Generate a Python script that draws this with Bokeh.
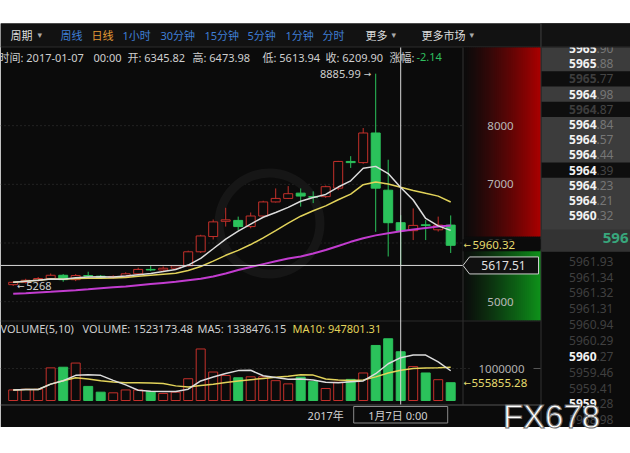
import numpy as np
import pandas as pd
from bokeh.plotting import figure
from bokeh.models import Range1d, ColumnDataSource
from bokeh.core.properties import value
from bokeh.embed import file_html
from bokeh.resources import INLINE

# ---------------- data: daily BTC/CNY, 2016-12-07 .. 2017-01-11 ----------------
dates = pd.date_range("2016-12-07", periods=36, freq="D")
opens = [5290, 5330, 5365, 5395, 5450, 5375, 5445, 5435, 5410, 5430,
         5475, 5550, 5540, 5570, 5610, 5850, 6110, 6370, 6385, 6280,
         6460, 6700, 6760, 6850, 6790, 6790, 6935, 7390, 7370, 7875,
         6900, 6345.82, 6210, 6310, 6225, 6305]
highs = [5345, 5390, 5420, 5480, 5470, 5470, 5510, 5455, 5450, 5500,
         5580, 5620, 5600, 5620, 5870, 6140, 6400, 6600, 6450, 6520,
         6720, 6930, 6970, 6930, 6880, 6980, 7400, 7480, 7960, 8885.99,
         7420, 6473.98, 6590, 6390, 6450, 6470]
lows = [5268, 5310, 5340, 5370, 5340, 5350, 5390, 5400, 5395, 5420,
        5460, 5520, 5525, 5550, 5600, 5830, 6060, 6280, 6220, 6250,
        6450, 6690, 6750, 6620, 6680, 6770, 6900, 7280, 7350, 6190,
        5770, 5613.94, 6050, 6050, 6195, 5830]
closes = [5330, 5365, 5395, 5450, 5375, 5445, 5435, 5410, 5430, 5475,
          5550, 5540, 5570, 5610, 5850, 6120, 6360, 6395, 6280, 6460,
          6700, 6760, 6840, 6800, 6780, 6960, 7390, 7370, 7875, 6935,
          6345.82, 6209.90, 6300, 6300, 6305, 5960.32]
volumes = [330000, 350000, 350000, 1020000, 1040000, 1170000, 440000, 260000, 240000, 330000,
           330000, 280000, 220000, 260000, 680000, 1610000, 890000, 780000, 710000, 740000,
           740000, 620000, 520000, 730000, 590000, 375000, 570632.35, 660000, 860000, 1720000,
           1929207.27, 1523173.48, 1060000, 860000, 650000, 555855.28]
# 30-day average line as displayed (it reaches back before the first visible day)
ma30 = [5133, 5145, 5158, 5170, 5183, 5196, 5210, 5228, 5245, 5260,
        5280, 5300, 5320, 5340, 5365, 5390, 5430, 5480, 5540, 5590,
        5640, 5690, 5735, 5770, 5820, 5880, 5950, 6020, 6080, 6130,
        6165, 6200, 6230, 6255, 6280, 6300]

price_ticks = [5000, 6000, 7000, 8000]
volume_ticks = [1000000]
cursor_idx = 31
cursor_price = 5617.51

periods = ["周线", "日线", "1小时", "30分钟", "15分钟", "5分钟", "1分钟", "分时"]
asks = ["5965.90", "5965.88", "5965.77", "5964.98", "5964.87", "5964.84",
        "5964.57", "5964.44", "5964.39", "5964.23", "5964.21", "5960.32"]
bids = ["5961.93", "5961.34", "5961.32", "5961.31", "5960.94", "5960.29",
        "5960.27", "5959.46", "5959.41", "5959.28", "5958.98"]
last_trade = "596"

# ---------------- page geometry & styling ----------------
W, H = 630, 453
BG = "#0b0b0b"
RED = "#c4302b"
GREEN = "#2bc25b"
MA_WHITE = "#dcdcdc"
MA_YELLOW = "#e2d35a"
MA_MAGENTA = "#c23ccf"
GRID = "#3a3a3a"
TXT = "#cfcfcf"
LATIN = "Noto Sans, Noto Sans CJK SC"
CJK = "Noto Sans CJK SC"

# candle slot i sits at 12.7 + 12.5*i px
IDX_LO, IDX_HI = -12.7 / 12.5, (W - 12.7) / 12.5
# price 6000 at 242.5 px, 0.05867 px per yuan
P_Y0, P_K = 242.5, 0.05867
PRICE_LO, PRICE_HI = 6000 - (H - P_Y0) / P_K, 6000 + P_Y0 / P_K
# volume baseline at 400 px, 32 px per million
V_Y0, V_K = 400.0, 32e-6
VOL_LO, VOL_HI = -(H - V_Y0) / V_K, V_Y0 / V_K

p = figure(width=W, height=H, output_backend="svg", toolbar_location=None,
           x_range=Range1d(IDX_LO, IDX_HI), y_range=Range1d(H, 0),
           x_axis_location=None, y_axis_location=None, min_border=0,
           background_fill_color="white", border_fill_color="white",
           outline_line_color=None)
p.min_border_left = p.min_border_right = p.min_border_top = p.min_border_bottom = 0
p.extra_x_ranges = {"px": Range1d(0, W)}
p.extra_y_ranges = {"price": Range1d(PRICE_LO, PRICE_HI), "vol": Range1d(VOL_LO, VOL_HI)}
p.grid.visible = False

price_unit = (PRICE_HI - PRICE_LO) / H   # yuan per pixel


def box(l, r, t, b, color, line=None, **kw):
    p.quad(left=[l], right=[r], top=[t], bottom=[b], fill_color=color,
           line_color=line, x_range_name="px", **kw)


def seg(x0, x1, y0, y1, color, width=1.0, dash="solid", xr="px", yr="default"):
    p.segment(x0=[x0], x1=[x1], y0=[y0], y1=[y1], line_color=color,
              line_width=width, line_dash=dash, x_range_name=xr, y_range_name=yr)


def label(x, y, s, color=TXT, size="11px", font=LATIN, align="left",
          style="normal", xr="px", yr="default", **kw):
    p.text(x=[x], y=[y], text=[s], text_color=color, text_font=value(font),
           text_font_size=value(size), text_align=align, text_baseline="middle",
           text_font_style=style, x_range_name=xr, y_range_name=yr, **kw)


def lerp(c0, c1, t):
    return "#%02x%02x%02x" % tuple(int(round(a + (b - a) * t)) for a, b in zip(c0, c1))


# ---------------- frame backgrounds ----------------
box(0, W, 23, 426.5, BG)
box(0, W, 23, 46.5, "#121212")
seg(0, W, 46.5, 46.5, "#2c2c2c")

# right-hand price strip: red above the last price, green below
xs = np.arange(462, 540, 2.0)
tr = ((xs + 1 - 462) / 78.0) ** 1.3
p.quad(left=xs, right=xs + 2.5, top=[47] * len(xs), bottom=[236] * len(xs),
       fill_color=[lerp((11, 11, 11), (170, 0, 0), t) for t in tr],
       line_color=None, x_range_name="px")
tg = ((xs + 1 - 462) / 78.0) ** 1.2
p.quad(left=xs, right=xs + 2.5, top=[249] * len(xs), bottom=[320] * len(xs),
       fill_color=[lerp((11, 11, 11), (14, 145, 26), t) for t in tg],
       line_color=None, x_range_name="px")

# panel rules
seg(462.5, 462.5, 47, 404, "#333333")
seg(540.5, 540.5, 23, 426, "#333333")
seg(0, 540, 320.5, 320.5, "#2a2a2a")
seg(0, 540, 404.5, 404.5, "#555555")

# dotted price grid and volume grid
for t in price_ticks:
    seg(0, 462, t, t, GRID, 1, "1 3", yr="price")
for t in volume_ticks:
    seg(0, 470, t, t, GRID, 1, "1 3", yr="vol")
    seg(533, 540, t, t, "#555555", 1, yr="vol")

# faint logo ring
p.annulus(x=[269], y=[223], inner_radius=46, outer_radius=55, fill_color="#161616",
          line_color=None, x_range_name="px")

# ---------------- candles ----------------
df = pd.DataFrame(dict(i=np.arange(len(closes)), open=opens, high=highs, low=lows,
                       close=closes, volume=volumes, ma30=ma30))
df["up"] = df.close >= df.open
df["top"] = df[["open", "close"]].max(axis=1)
df["bot"] = df[["open", "close"]].min(axis=1)
df["ma5"] = df.close.rolling(5, min_periods=1).mean()
df["ma10"] = df.close.rolling(10, min_periods=1).mean()
df["vma5"] = df.volume.rolling(5, min_periods=1).mean()
df["vma10"] = df.volume.rolling(10, min_periods=1).mean()

src = ColumnDataSource(df)
up = ColumnDataSource(df[df.up])
dn = ColumnDataSource(df[~df.up])

p.segment(x0="i", x1="i", y0="low", y1="high", source=up, line_color=RED,
          line_width=1, y_range_name="price")
p.vbar(x="i", width=0.72, top="top", bottom="bot", source=up, fill_color=BG,
       line_color=RED, line_width=1, y_range_name="price")
p.segment(x0="i", x1="i", y0="low", y1="high", source=dn, line_color=GREEN,
          line_width=1, y_range_name="price")
p.vbar(x="i", width=0.72, top="top", bottom="bot", source=dn, fill_color=GREEN,
       line_color=GREEN, line_width=1, y_range_name="price")

p.line(x="i", y="ma30", source=src, line_color=MA_MAGENTA, line_width=2, y_range_name="price")
p.line(x="i", y="ma10", source=src, line_color=MA_YELLOW, line_width=1.5, y_range_name="price")
p.line(x="i", y="ma5", source=src, line_color=MA_WHITE, line_width=1.5, y_range_name="price")

# volume bars
p.vbar(x="i", width=0.72, top="volume", bottom=0, source=up, fill_color=BG,
       line_color=RED, line_width=1, y_range_name="vol")
p.vbar(x="i", width=0.72, top="volume", bottom=0, source=dn, fill_color=GREEN,
       line_color=GREEN, line_width=1, y_range_name="vol")
p.line(x="i", y="vma10", source=src, line_color=MA_YELLOW, line_width=1.5, y_range_name="vol")
p.line(x="i", y="vma5", source=src, line_color=MA_WHITE, line_width=1.5, y_range_name="vol")

# ---------------- crosshair ----------------
p.segment(x0=[cursor_idx], x1=[cursor_idx], y0=[47], y1=[404], line_color="#d8d8d8", line_width=1)
seg(0, 462, cursor_price, cursor_price, "#d8d8d8", 1, yr="price")

# ---------------- price-axis texts ----------------
for t in price_ticks:
    label(500, t, str(t), color="#b8b8b8", size="11.5px", align="center", yr="price")
for t in volume_ticks:
    label(501, t, str(t), color="#b0b0b0", size="11.5px", align="center", yr="vol")

last_close = closes[-1]
hh = 6 * price_unit
p.quad(left=[462], right=[540], top=[last_close + hh], bottom=[last_close - hh],
       fill_color=BG, line_color=None, x_range_name="px", y_range_name="price")
label(463, last_close, "\u2190", color="#e6dc6e", size="9px", font="DejaVu Sans", yr="price")
label(472, last_close, f"{last_close:.2f}", color="#e6dc6e", size="11.5px", yr="price")
last_vol = volumes[-1]
label(463, last_vol, "\u2190", color="#e6dc6e", size="9px", font="DejaVu Sans", yr="vol")
label(471, last_vol, f"{last_vol:.2f}", color="#e6dc6e", size="11.5px", yr="vol")

bh = 8.5 * price_unit
p.patch(x=[462.5, 469, 538, 538, 469], y=[cursor_price, cursor_price + bh, cursor_price + bh,
                                          cursor_price - bh, cursor_price - bh],
        fill_color="#101010", line_color="#cccccc", line_width=1,
        x_range_name="px", y_range_name="price")
label(503, cursor_price, f"{cursor_price:.2f}", color="#e0e0e0", size="12px",
      align="center", yr="price")

# extreme markers
imax = int(np.argmax(highs))
imin = int(np.argmin(lows))
label(imax - 0.35, highs[imax], "\u2192", color=TXT, size="9px", font="DejaVu Sans",
      align="right", xr="default", yr="price")
label(imax - 1.2, highs[imax], f"{highs[imax]:.2f}", color=TXT, size="11px",
      align="right", xr="default", yr="price")
label(imin + 0.3, lows[imin], "\u2190", color=TXT, size="9px", font="DejaVu Sans",
      xr="default", yr="price")
label(imin + 1.05, lows[imin], f"{lows[imin]:g}", color=TXT, size="11px",
      xr="default", yr="price")

# ---------------- header lines ----------------
label(10, 34.5, "周期", color="#dddddd", font=CJK)
label(37, 34.5, "\u25be", color="#aaaaaa", size="9px", font="DejaVu Sans")
period_x = [60, 91, 122, 160, 204, 247, 285, 322]
for s, x in zip(periods, period_x):
    label(x, 34.5, s, color="#e39a35" if s == "日线" else "#3f7fd6", font=LATIN)
label(365, 34.5, "更多", color="#dddddd", font=CJK)
label(391, 34.5, "\u25be", color="#aaaaaa", size="9px", font="DejaVu Sans")
label(421, 34.5, "更多市场", color="#dddddd", font=CJK)
label(469, 34.5, "\u25be", color="#aaaaaa", size="9px", font="DejaVu Sans")

d = dates[cursor_idx]
row = df.iloc[cursor_idx]
chg = (row.close / df.close.iloc[cursor_idx - 1] - 1) * 100
iy = 56.5
label(-2, iy, f"时间: {d:%Y-%m-%d}")
label(93, iy, f"{d:%H:%M}")
label(127, iy, f"开: {row.open:.2f}")
label(192, iy, f"高: {row.high:.2f}")
label(262, iy, f"低: {row.low:.2f}")
label(325, iy, f"收: {row.close:.2f}")
label(389, iy, "涨幅:")
label(416, iy, f"{chg:.2f}", color="#2fbf5f")

vy = 328
label(0, vy, "VOLUME(5,10)")
label(82, vy, f"VOLUME: {row.volume:.2f}")
label(197, vy, f"MA5: {row.vma5:.2f}")
label(292, vy, f"MA10: {row.vma10:.2f}", color=MA_YELLOW)

# date row
year_idx = int(np.where((dates.month == 1) & (dates.day == 1))[0][0])
label(year_idx, 414.5, f"{dates[year_idx].year}年", color=TXT, align="center", xr="default")
p.quad(left=[cursor_idx - 3.76], right=[cursor_idx + 3.76], top=[406], bottom=[422.5],
       fill_color=BG, line_color="#8a8a8a", line_width=1)
label(cursor_idx, 414.5, f"{d.month}月{d.day}日   {d.hour}:{d.minute:02d}",
      color=TXT, align="center", xr="default")

# ---------------- order book ----------------
box(541, W, 47, 251, "#3c3c3c")
box(541, W, 229, 251, "#333333")
ask_band = [0, 0, 1, 0, 1, 0, 0, 0, 1, 0, 0, 0]
ask_bright = [1, 1, 0, 1, 0, 1, 1, 1, 1, 1, 1, 1]
for k, s in enumerate(asks):
    y = 48 + 15.2 * k
    if ask_band[k]:
        box(541, W, y - 7.6, y + 7.6, "#0e0e0e")
    ip, dp = s.split(".")
    label(596, y, ip, color="#f2f2f2" if ask_bright[k] else "#3d3d3d", size="12px",
          style="bold", align="right")
    label(596, y, "." + dp, color="#444444" if ask_band[k] else "#767676", size="12px")
label(628, 237, last_trade, color="#38a67c", size="15px", style="bold", align="right")

bid_bright = [0, 0, 0, 0, 0, 0, 1, 0, 0, 1, 0]
for k, s in enumerate(bids):
    y = 260.7 + 15.86 * k
    ip, dp = s.split(".")
    label(596, y, ip, color="#f2f2f2" if bid_bright[k] else "#3f3f3f", size="12px",
          style="bold" if bid_bright[k] else "normal", align="right")
    label(596, y, "." + dp, color="#404040", size="12px")

# toolbar row over the order book top
box(541, W, 23, 46.5, "#121212")
seg(540.5, 540.5, 23, 46.5, "#333333")
seg(541, W, 46.5, 46.5, "#2c2c2c")

# site mark
label(551, 416, "FX678", color="#ffffff", size="33px", font="Liberation Sans",
      align="center", text_outline_color="#6a6a6a")

open("out.html", "w").write(file_html(p, INLINE))
